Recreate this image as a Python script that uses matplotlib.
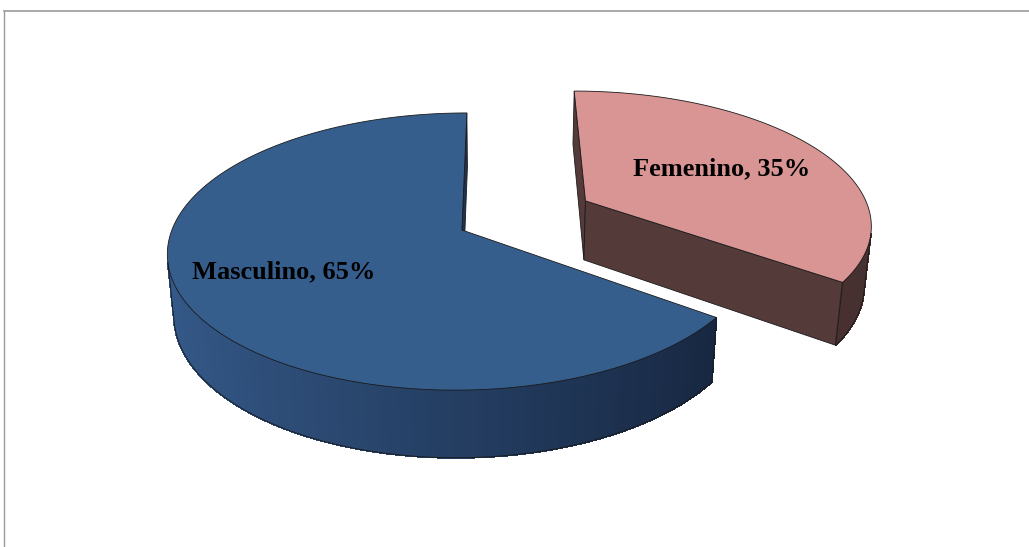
import numpy as np
import matplotlib
matplotlib.use('Agg')
import matplotlib.pyplot as plt
from matplotlib.patches import Polygon

# datos (orden de dibujo: empieza a las 12 en sentido horario)
categorias = ['Femenino', 'Masculino']
valores = [35, 65]
colores_top = ['#D99594', '#365E8D']
colores_lado = ['#553A3A', '#1E3350']
wall_dark = [np.array([0x46, 0x2F, 0x2F]) / 255, np.array([0x14, 0x22, 0x3A]) / 255]
wall_light = [np.array([0x5A, 0x3D, 0x3D]) / 255, np.array([0x35, 0x5A, 0x8A]) / 255]
explode = [0.49, 0.0]
label_r = [0.58, 0.65]

# proyeccion en perspectiva (pie 3D estilo Excel)
K = 290.0
elev = np.radians(27.8)
D = 5.69
cu = 0.128
cx0, cy0 = 499.0, 230.0
H = 0.24
cam = np.array([cu, -D * np.cos(elev), D * np.sin(elev)])


def proj(u, v, h):
    sx = u - cu
    sy = v * np.sin(elev) + h * np.cos(elev)
    depth = v * np.cos(elev) - h * np.sin(elev)
    s = D / (D + depth)
    return cx0 + K * s * sx, cy0 - K * s * sy


def visible(p, n):
    return np.dot(cam - p, n) > 0


fig = plt.figure(figsize=(10.29, 5.47), dpi=100)
ax = fig.add_axes([0, 0, 1, 1])
ax.set_xlim(0, 1029)
ax.set_ylim(547, 0)
ax.axis('off')

# marco
ax.plot([4, 1029], [10.5, 10.5], color='#9a9a9a', lw=1.2)
ax.plot([4, 4], [10.5, 547], color='#9a9a9a', lw=1)

total = float(sum(valores))
ang = 0.0
edge = '#1a1a1a'
for i, (cat, val) in enumerate(zip(categorias, valores)):
    t1 = ang
    t2 = ang + 360.0 * val / total
    ang = t2
    mid = np.radians((t1 + t2) / 2)
    ou, ov = explode[i] * np.sin(mid), explode[i] * np.cos(mid)
    th = np.radians(np.linspace(t1, t2, 200))
    caras = []

    # caras radiales
    for t, sgn in [(np.radians(t1), -1), (np.radians(t2), 1)]:
        n = np.array([sgn * np.cos(t), -sgn * np.sin(t), 0])
        pm = np.array([ou + 0.5 * np.sin(t), ov + 0.5 * np.cos(t), -H / 2])
        if visible(pm, n):
            pts = [proj(ou, ov, 0), proj(ou + np.sin(t), ov + np.cos(t), 0),
                   proj(ou + np.sin(t), ov + np.cos(t), -H), proj(ou, ov, -H)]
            depth = pm[1] * np.cos(elev)
            caras.append((depth, Polygon(pts, closed=True, fc=colores_lado[i],
                                         ec=edge, lw=0.6)))

    # pared exterior
    vis_seg = []
    for a, b in zip(th[:-1], th[1:]):
        m = (a + b) / 2
        n = np.array([np.sin(m), np.cos(m), 0])
        pm = np.array([ou + np.sin(m), ov + np.cos(m), -H / 2])
        if visible(pm, n):
            f = (1 - np.sin(m)) / 2
            c = wall_dark[i] + (wall_light[i] - wall_dark[i]) * f
            pts = [proj(ou + np.sin(a), ov + np.cos(a), 0), proj(ou + np.sin(b), ov + np.cos(b), 0),
                   proj(ou + np.sin(b), ov + np.cos(b), -H), proj(ou + np.sin(a), ov + np.cos(a), -H)]
            caras.append((pm[1] * np.cos(elev), Polygon(pts, closed=True, fc=c, ec=c, lw=0.8,
                                                        antialiased=False)))
            vis_seg.append((a, b))

    for _, p in sorted(caras, key=lambda x: -x[0]):
        ax.add_patch(p)

    # contorno de la pared
    if vis_seg:
        tt = np.array([s[0] for s in vis_seg] + [vis_seg[-1][1]])
        xb, yb = proj(ou + np.sin(tt), ov + np.cos(tt), -H)
        ax.plot(xb, yb, color=edge, lw=0.6)
        for tv in [tt[0], tt[-1]]:
            xa, ya = proj(ou + np.sin(tv), ov + np.cos(tv), 0)
            xz, yz = proj(ou + np.sin(tv), ov + np.cos(tv), -H)
            ax.plot([xa, xz], [ya, yz], color=edge, lw=0.6)

    # cara superior
    xt, yt = proj(ou + np.sin(th), ov + np.cos(th), 0)
    xc, yc = proj(ou, ov, 0)
    pts = [(xc, yc)] + list(zip(xt, yt))
    ax.add_patch(Polygon(pts, closed=True, fc=colores_top[i], ec=edge, lw=0.6))

    # etiqueta
    lx, ly = proj(ou + label_r[i] * np.sin(mid), ov + label_r[i] * np.cos(mid), 0)
    ax.text(lx, ly, '%s, %d%%' % (cat, val), ha='center', va='center',
            fontsize=19, fontweight='bold', family='Liberation Serif', color='black')

fig.savefig('out.png', dpi=100)
